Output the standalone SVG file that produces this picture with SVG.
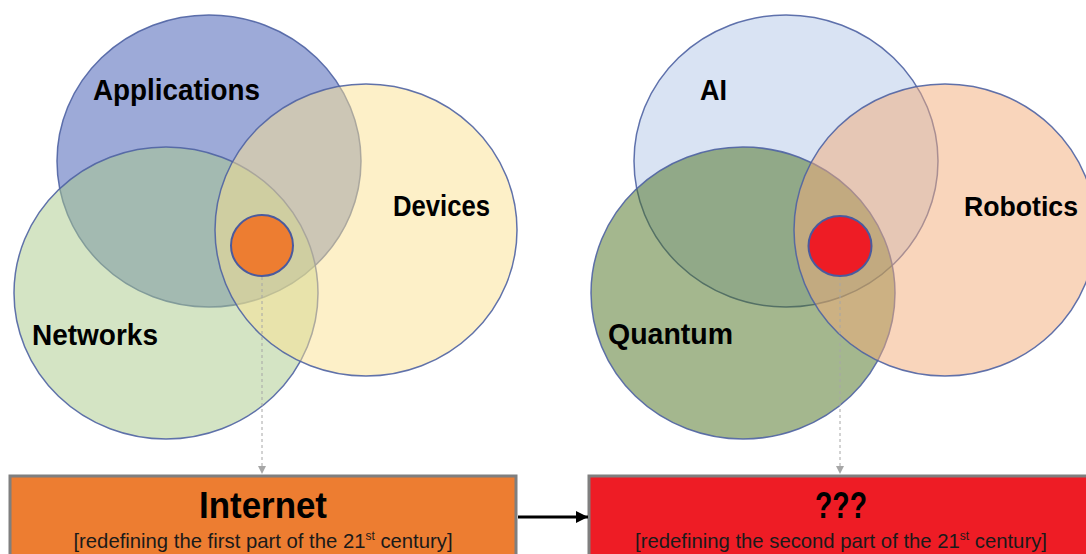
<svg xmlns="http://www.w3.org/2000/svg" width="1086" height="554" viewBox="0 0 1086 554">
<defs>
<style>
.set{fill-opacity:0.5;stroke:#4F63A3;stroke-width:1.5;stroke-opacity:0.9}
.lbl{font-family:"Liberation Sans",Arial,sans-serif;font-weight:bold;font-size:30px;fill:#000}
.core{stroke:#4A5A9E;stroke-width:2}
.box{stroke:#7F7F7F;stroke-width:3}
.title{font-family:"Liberation Sans",Arial,sans-serif;font-weight:bold;font-size:37px;fill:#000;text-anchor:middle}
.sub{font-family:"Liberation Sans",Arial,sans-serif;font-size:20.3px;fill:#1a1a1a;text-anchor:middle}
.dash{stroke:#A6A6A6;stroke-width:1;stroke-dasharray:3 3;fill:none}
.arrow{stroke:#000;stroke-width:3;fill:none}
</style>
<marker id="mgray" viewBox="0 0 10 10" refX="10" refY="5" markerWidth="8" markerHeight="8" markerUnits="userSpaceOnUse" orient="auto">
<path d="M0,0 L10,5 L0,10 z" fill="#A6A6A6"/>
</marker>
<marker id="mblack" viewBox="0 0 10 10" refX="10" refY="5" markerWidth="4" markerHeight="4" orient="auto">
<path d="M0,0 L10,5 L0,10 z" fill="#000"/>
</marker>
</defs>
<rect width="1086" height="554" fill="#fff"/>

<g id="left-venn">
<g id="applications">
<ellipse class="set" cx="209" cy="161" rx="152" ry="146" fill="#3B55B1"/>
<text class="lbl" x="93" y="100" textLength="167" lengthAdjust="spacingAndGlyphs">Applications</text>
</g>
<g id="networks">
<ellipse class="set" cx="166" cy="293" rx="152" ry="146" fill="#A9C989"/>
<text class="lbl" x="32" y="345" textLength="126" lengthAdjust="spacingAndGlyphs">Networks</text>
</g>
<g id="devices">
<ellipse class="set" cx="366" cy="230" rx="151" ry="146" fill="#FBE191"/>
<text class="lbl" x="393" y="216" textLength="97" lengthAdjust="spacingAndGlyphs">Devices</text>
</g>
<g id="internet-core">
<ellipse class="core" cx="262" cy="245.5" rx="31" ry="30.5" fill="#ED7D31"/>
</g>
</g>

<g id="right-venn">
<g id="ai">
<ellipse class="set" cx="786" cy="161" rx="152" ry="146" fill="#B4C7E7"/>
<text class="lbl" x="700" y="100" textLength="27" lengthAdjust="spacingAndGlyphs">AI</text>
</g>
<g id="quantum">
<ellipse class="set" cx="743" cy="293" rx="152" ry="146" fill="#496F1D"/>
<text class="lbl" x="608" y="344" textLength="125" lengthAdjust="spacingAndGlyphs">Quantum</text>
</g>
<g id="robotics">
<ellipse class="set" cx="945" cy="230" rx="151" ry="146" fill="#F3AB77"/>
<text class="lbl" x="964" y="216" font-size="28" style="font-size:28px" textLength="114" lengthAdjust="spacingAndGlyphs">Robotics</text>
</g>
<g id="unknown-core">
<ellipse class="core" cx="840" cy="246" rx="31.5" ry="30" fill="#EE1C25"/>
</g>
</g>

<g id="internet-box">
<rect class="box" x="10" y="476" width="506" height="90" fill="#ED7D31"/>
<text class="title" x="263" y="518" textLength="128" lengthAdjust="spacingAndGlyphs">Internet</text>
<text class="sub" x="263" y="548">[redefining the first part of the 21<tspan font-size="12" dy="-8">st</tspan><tspan dy="8"> century]</tspan></text>
</g>

<g id="unknown-box">
<rect class="box" x="589" y="476" width="510" height="90" fill="#EE1C25"/>
<text class="title" x="841" y="518" textLength="52" lengthAdjust="spacingAndGlyphs">???</text>
<text class="sub" x="841" y="548">[redefining the second part of the 21<tspan font-size="12" dy="-8">st</tspan><tspan dy="8"> century]</tspan></text>
</g>

<g id="connectors">
<line class="dash" x1="262" y1="277" x2="262" y2="474" marker-end="url(#mgray)"/>
<line class="dash" x1="840" y1="277" x2="840" y2="474" marker-end="url(#mgray)"/>
<line class="arrow" x1="518" y1="517" x2="588" y2="517" marker-end="url(#mblack)"/>
</g>
</svg>
